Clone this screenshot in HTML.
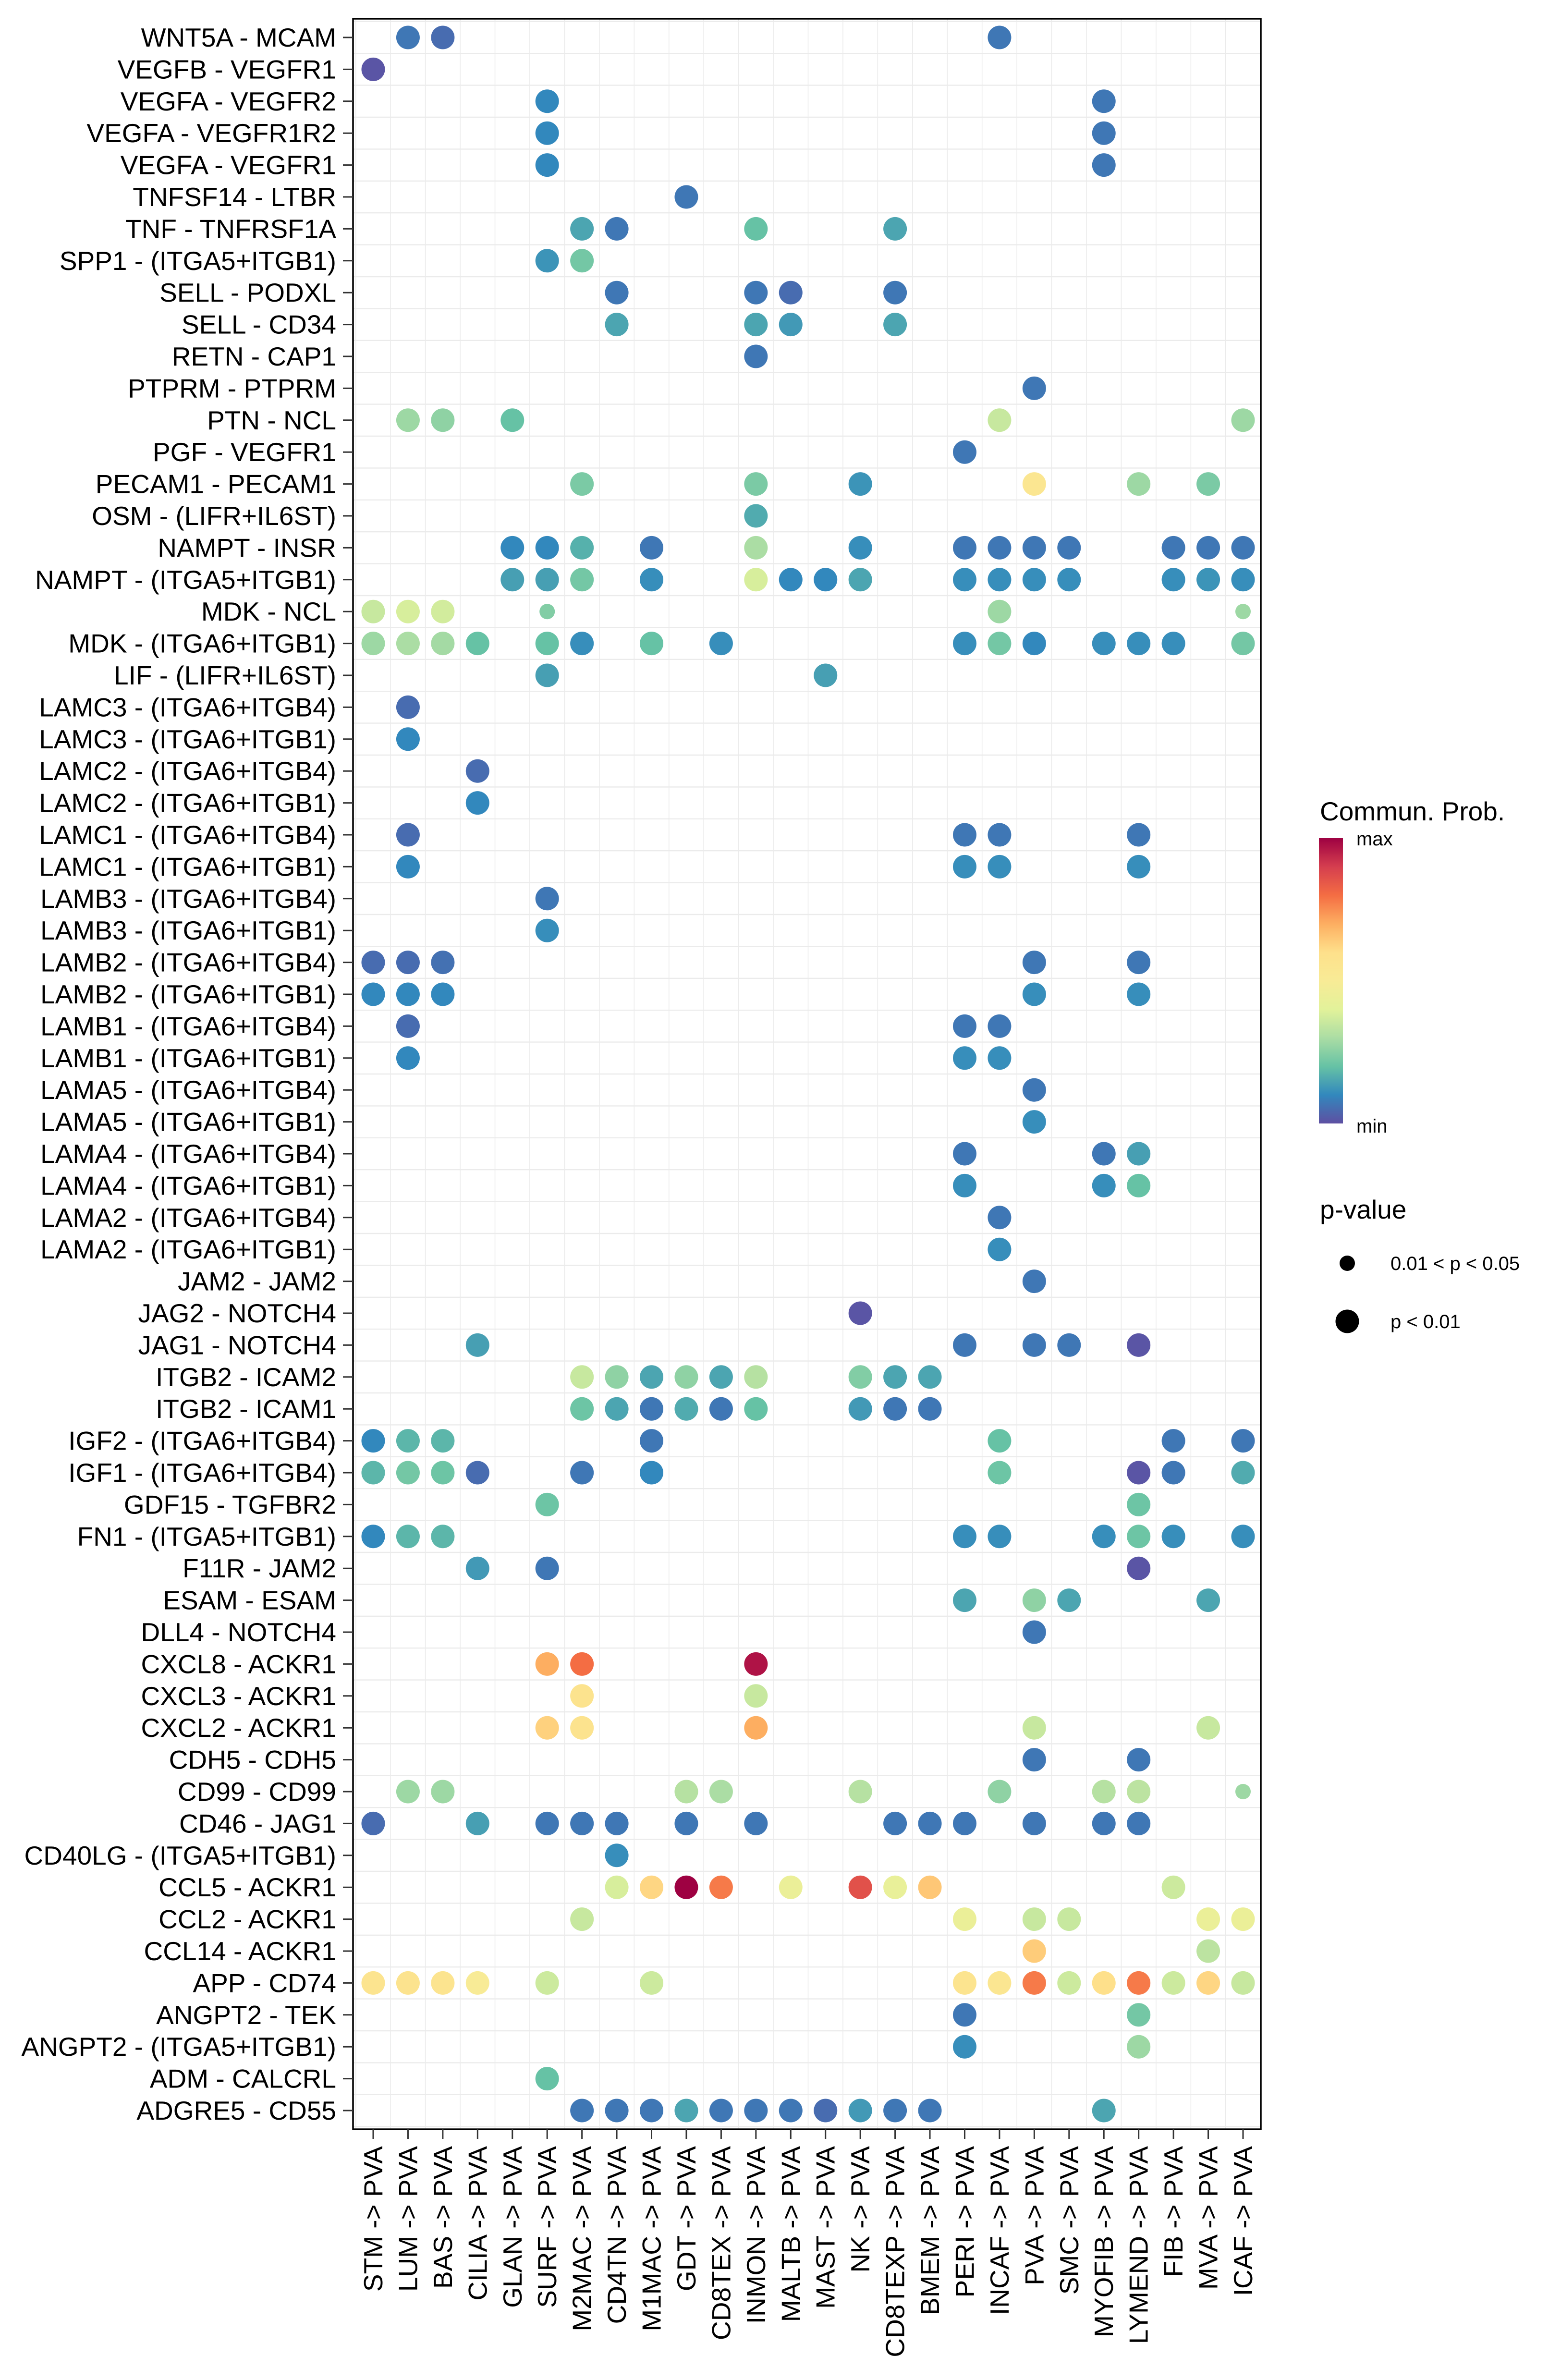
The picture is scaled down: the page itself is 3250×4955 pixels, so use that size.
<!DOCTYPE html>
<html><head><meta charset="utf-8"><style>
html,body{margin:0;padding:0;background:#fff;}
svg text{font-family:"Liberation Sans",Arial,sans-serif;}
</style></head>
<body>
<svg id="chart" xmlns="http://www.w3.org/2000/svg" width="3250" height="4950" viewBox="0 0 3250 4950">
<rect x="0" y="0" width="3250" height="4950" fill="#fff"/>
<g id="grid"></g>
<g id="dots"></g>
<rect x="735" y="39" width="1890" height="4394" fill="none" stroke="#000" stroke-width="3.5"/>
<g id="yaxis"></g>
<g id="xaxis"></g>
<g>
<defs><linearGradient id="spec" x1="0" y1="1" x2="0" y2="0">
<stop offset="0" stop-color="#5E4FA2"/><stop offset="0.1" stop-color="#3288BD"/><stop offset="0.2" stop-color="#66C2A5"/><stop offset="0.3" stop-color="#ABDDA4"/><stop offset="0.4" stop-color="#E2F29A"/><stop offset="0.5" stop-color="#F8EB96"/><stop offset="0.6" stop-color="#FEE08B"/><stop offset="0.7" stop-color="#FDAE61"/><stop offset="0.8" stop-color="#F46D43"/><stop offset="0.9" stop-color="#D53E4F"/><stop offset="1" stop-color="#9E0142"/>
</linearGradient></defs>
<text x="2748" y="1708" font-size="55">Commun. Prob.</text>
<rect x="2746" y="1745" width="50" height="594" fill="url(#spec)"/>
<text x="2824" y="1760" font-size="40">max</text>
<text x="2824" y="2358" font-size="40">min</text>
</g>
<g>
<text x="2748" y="2537" font-size="55">p-value</text>
<circle cx="2805" cy="2630" r="16" fill="#000"/>
<text x="2895" y="2644" font-size="40">0.01 &lt; p &lt; 0.05</text>
<circle cx="2805" cy="2751" r="24.5" fill="#000"/>
<text x="2895" y="2765" font-size="40">p &lt; 0.01</text>
</g>
</svg>
<script>
const rowLabels = ["WNT5A - MCAM","VEGFB - VEGFR1","VEGFA - VEGFR2","VEGFA - VEGFR1R2","VEGFA - VEGFR1","TNFSF14 - LTBR","TNF - TNFRSF1A","SPP1 - (ITGA5+ITGB1)","SELL - PODXL","SELL - CD34","RETN - CAP1","PTPRM - PTPRM","PTN - NCL","PGF - VEGFR1","PECAM1 - PECAM1","OSM - (LIFR+IL6ST)","NAMPT - INSR","NAMPT - (ITGA5+ITGB1)","MDK - NCL","MDK - (ITGA6+ITGB1)","LIF - (LIFR+IL6ST)","LAMC3 - (ITGA6+ITGB4)","LAMC3 - (ITGA6+ITGB1)","LAMC2 - (ITGA6+ITGB4)","LAMC2 - (ITGA6+ITGB1)","LAMC1 - (ITGA6+ITGB4)","LAMC1 - (ITGA6+ITGB1)","LAMB3 - (ITGA6+ITGB4)","LAMB3 - (ITGA6+ITGB1)","LAMB2 - (ITGA6+ITGB4)","LAMB2 - (ITGA6+ITGB1)","LAMB1 - (ITGA6+ITGB4)","LAMB1 - (ITGA6+ITGB1)","LAMA5 - (ITGA6+ITGB4)","LAMA5 - (ITGA6+ITGB1)","LAMA4 - (ITGA6+ITGB4)","LAMA4 - (ITGA6+ITGB1)","LAMA2 - (ITGA6+ITGB4)","LAMA2 - (ITGA6+ITGB1)","JAM2 - JAM2","JAG2 - NOTCH4","JAG1 - NOTCH4","ITGB2 - ICAM2","ITGB2 - ICAM1","IGF2 - (ITGA6+ITGB4)","IGF1 - (ITGA6+ITGB4)","GDF15 - TGFBR2","FN1 - (ITGA5+ITGB1)","F11R - JAM2","ESAM - ESAM","DLL4 - NOTCH4","CXCL8 - ACKR1","CXCL3 - ACKR1","CXCL2 - ACKR1","CDH5 - CDH5","CD99 - CD99","CD46 - JAG1","CD40LG - (ITGA5+ITGB1)","CCL5 - ACKR1","CCL2 - ACKR1","CCL14 - ACKR1","APP - CD74","ANGPT2 - TEK","ANGPT2 - (ITGA5+ITGB1)","ADM - CALCRL","ADGRE5 - CD55"];
const colLabels = ["STM -> PVA","LUM -> PVA","BAS -> PVA","CILIA -> PVA","GLAN -> PVA","SURF -> PVA","M2MAC -> PVA","CD4TN -> PVA","M1MAC -> PVA","GDT -> PVA","CD8TEX -> PVA","INMON -> PVA","MALTB -> PVA","MAST -> PVA","NK -> PVA","CD8TEXP -> PVA","BMEM -> PVA","PERI -> PVA","INCAF -> PVA","PVA -> PVA","SMC -> PVA","MYOFIB -> PVA","LYMEND -> PVA","FIB -> PVA","MVA -> PVA","ICAF -> PVA"];
// per-row dot lists: "col:prob" ; prob in 0..1 (scaled); suffix s = 0.01<p<0.05
const rowDots = [
"1:.07 2:.05 18:.07","0:.01","5:.1 21:.07","5:.1 21:.07","5:.1 21:.07","9:.07",
"6:.15 7:.07 11:.2 15:.15","5:.12 6:.22","7:.07 11:.07 12:.05 15:.07","7:.15 11:.15 12:.13 15:.15","11:.07","19:.07",
"1:.28 2:.26 4:.2 18:.35 25:.28","17:.07","6:.23 11:.23 14:.12 19:.55 22:.28 24:.23","11:.16",
"4:.1 5:.1 6:.17 8:.07 11:.3 14:.11 17:.07 18:.07 19:.07 20:.07 23:.07 24:.07 25:.07",
"4:.14 5:.14 6:.22 8:.11 11:.38 12:.1 13:.1 14:.15 17:.11 18:.11 19:.11 20:.11 23:.11 24:.12 25:.11",
"0:.35 1:.38 2:.37 5:.24s 18:.28 25:.28s",
"0:.28 1:.3 2:.29 3:.2 5:.2 6:.11 8:.2 10:.11 17:.11 18:.22 19:.1 21:.11 22:.11 23:.11 25:.22",
"5:.14 13:.14","1:.05","1:.1","3:.05","3:.1","1:.05 17:.07 18:.07 22:.07","1:.1 17:.11 18:.11 22:.11","5:.07","5:.11",
"0:.05 1:.05 2:.06 19:.07 22:.07","0:.1 1:.1 2:.1 19:.11 22:.11","1:.05 17:.07 18:.07","1:.1 17:.11 18:.11",
"19:.07","19:.11","17:.07 21:.07 22:.14","17:.11 21:.11 22:.2","18:.07","18:.11","19:.07","14:.01",
"3:.14 17:.07 19:.07 20:.07 22:.01",
"6:.35 7:.26 8:.15 9:.26 10:.15 11:.32 14:.24 15:.15 16:.15",
"6:.21 7:.15 8:.07 9:.16 10:.07 11:.2 14:.13 15:.07 16:.07",
"0:.1 1:.18 2:.18 8:.07 18:.2 23:.07 25:.07",
"0:.18 1:.22 2:.21 3:.05 6:.07 8:.1 18:.21 22:.01 23:.07 25:.16",
"5:.21 22:.21","0:.1 1:.18 2:.18 17:.11 18:.11 21:.11 22:.21 23:.11 25:.11","3:.13 5:.07 22:.01",
"17:.15 19:.26 20:.15 24:.15","19:.07","5:.7 6:.8 11:.97","6:.57 11:.35","5:.63 6:.57 11:.7 19:.35 24:.35","19:.07 22:.07",
"1:.28 2:.28 9:.32 10:.3 14:.32 18:.26 21:.32 22:.33 25:.28s",
"0:.05 3:.14 5:.07 6:.07 7:.07 9:.07 11:.07 15:.07 16:.07 17:.07 19:.07 21:.07 22:.07",
"7:.11","7:.38 8:.62 9:1 10:.78 12:.44 14:.86 15:.43 16:.65 23:.36",
"6:.35 17:.44 19:.35 20:.35 24:.44 25:.44","19:.64 24:.33",
"0:.56 1:.57 2:.56 3:.5 5:.36 8:.36 17:.56 18:.55 19:.78 20:.36 21:.6 22:.78 23:.36 24:.62 25:.35",
"17:.07 22:.22","17:.11 22:.28","5:.2",
"6:.07 7:.07 8:.07 9:.15 10:.07 11:.07 12:.07 13:.05 14:.13 15:.07 16:.07 21:.15"
];
const NS="http://www.w3.org/2000/svg";
const X0=777, DX=72.44, Y0=78, DY=66.4;
const xPos=i=>X0+i*DX, yPos=j=>Y0+j*DY;
const stops=["#5E4FA2","#3288BD","#66C2A5","#ABDDA4","#E2F29A","#F8EB96","#FEE08B","#FDAE61","#F46D43","#D53E4F","#9E0142"];
function hex(h){return [1,3,5].map(k=>parseInt(h.substr(k,2),16));}
function color(v){v=Math.max(0,Math.min(1,v));const t=v*10;const i=Math.min(9,Math.floor(t));const f=t-i;const a=hex(stops[i]),b=hex(stops[i+1]);return "rgb("+a.map((c,k)=>Math.round(c+(b[k]-c)*f)).join(",")+")";}
function mk(tag,attrs,parent){const e=document.createElementNS(NS,tag);for(const k in attrs)e.setAttribute(k,attrs[k]);parent.appendChild(e);return e;}
const grid=document.getElementById('grid'), dots=document.getElementById('dots'), ya=document.getElementById('yaxis'), xa=document.getElementById('xaxis');
for(let i=0;i<=colLabels.length;i++){const x=xPos(i-0.5);const l=mk('line',{x1:x,y1:39,x2:x,y2:4433,stroke:'#ebebeb','stroke-width':1.6},grid);

}
for(let j=0;j<=rowLabels.length;j++){const y=yPos(j-0.5);const l=mk('line',{x1:735,y1:y,x2:2625,y2:y,stroke:'#ebebeb','stroke-width':2.4},grid);

}
rowLabels.forEach((lab,j)=>{const y=yPos(j);
const t=mk('line',{x1:714,y1:y,x2:735,y2:y,stroke:'#333','stroke-width':3},ya);


const tx=mk('text',{x:700,y:y+19,'font-size':55,'text-anchor':'end',fill:'#000'},ya);tx.textContent=lab;

});
colLabels.forEach((lab,i)=>{const x=xPos(i);
const t=mk('line',{x1:x,y1:4433,x2:x,y2:4453,stroke:'#333','stroke-width':3},xa);


const tx=mk('text',{x:0,y:0,'font-size':55,'text-anchor':'end',fill:'#000',transform:'translate('+(x+19)+',4468) rotate(-90)'},xa);tx.textContent=lab;

});
rowDots.forEach((s,j)=>{s.split(' ').forEach(tok=>{const small=tok.endsWith('s');const p=tok.replace('s','').split(':');const ci=+p[0],v=+p[1];
const c=mk('circle',{cx:xPos(ci),cy:yPos(j),r:small?16:24.5,fill:color(v)},dots);

});});
</script>
</body></html>
